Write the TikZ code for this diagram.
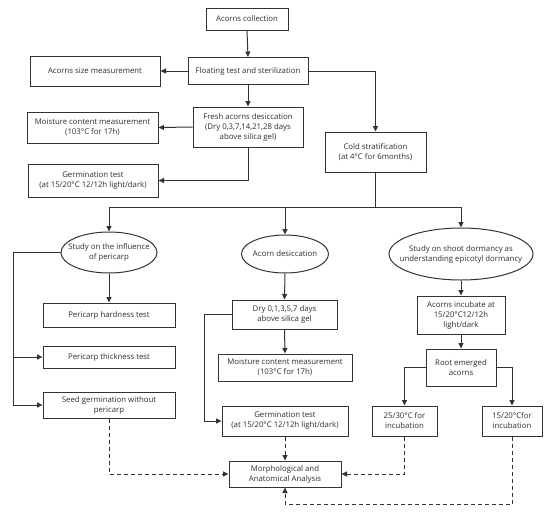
\documentclass[tikz,border=0pt]{standalone}
\usepackage{fontspec}
\setmainfont{Open Sans}
\usetikzlibrary{shapes.geometric,arrows.meta}
\definecolor{linec}{HTML}{333333}
\definecolor{textc}{HTML}{2E2E2E}
\begin{document}
\begin{tikzpicture}[x=1pt,y=-1pt,
  box/.style={draw=linec, line width=1pt, fill=white, inner sep=1pt, align=center,
              font=\fontsize{7.8}{10}\selectfont, text=textc},
  ell/.style={draw=linec, line width=1pt, fill=white, ellipse, inner sep=0pt},
  lbl/.style={align=center, inner sep=0pt, font=\fontsize{7.8}{10}\selectfont, text=textc},
  conn/.style={draw=linec, line width=1pt},
  arr/.style={conn, -{Triangle[length=5.5pt,width=5pt]}},
  darr/.style={arr, dash pattern=on 4pt off 3pt}]
\useasboundingbox (0,0) rectangle (550,515);

% top section
\node[box, minimum width=82pt, minimum height=22pt] (ac) at (247,19) {Acorns collection};
\node[box, minimum width=120pt, minimum height=27pt] (ft) at (248,71) {Floating test and sterilization};
\node[box, minimum width=130pt, minimum height=30pt] (asm) at (95,71) {Acorns size measurement};
\node[box, minimum width=110pt, minimum height=40pt] (fd) at (248,127) {Fresh acorns desiccation\\(Dry 0,3,7,14,21,28 days\\above silica gel)};
\node[box, minimum width=131pt, minimum height=31pt] (mcl) at (92.5,127.5) {Moisture content measurement\\(103°C for 17h)};
\node[box, minimum width=130pt, minimum height=33pt] (gtl) at (93,180.5) {Germination test\\(at 15/20°C 12/12h light/dark)};
\node[box, minimum width=101pt, minimum height=40pt] (cs) at (375.5,152) {Cold stratification\\(at 4°C for 6months)};

% ellipses (fixed size) with their texts
\node[ell, minimum width=96pt, minimum height=41pt] (e1) at (109,252.5) {};
\node[lbl] (e1t) at (e1.center) {Study on the influence\\of pericarp};
\node[ell, minimum width=87pt, minimum height=38pt] (e2) at (285,254) {};
\node[lbl] (e2t) at (e2.center) {Acorn desiccation};
\node[ell, minimum width=144pt, minimum height=52pt] (e3) at (461,254) {};
\node[lbl] (e3t) at (e3.center) {Study on shoot dormancy as\\understanding epicotyl dormancy};

% left branch
\node[box, minimum width=132pt, minimum height=24pt] (pht) at (109,315) {Pericarp hardness test};
\node[box, minimum width=132pt, minimum height=22pt] (ptt) at (109,357) {Pericarp thickness test};
\node[box, minimum width=132pt, minimum height=26pt] (sgw) at (109,405) {Seed germination without\\pericarp};

% middle branch
\node[box, minimum width=105pt, minimum height=29pt] (dry) at (284.5,314.5) {Dry 0,1,3,5,7 days\\above silica gel};
\node[box, minimum width=134pt, minimum height=27pt] (mcm) at (285,367.5) {Moisture content measurement\\(103°C for 17h)};
\node[box, minimum width=126pt, minimum height=30pt] (gtm) at (285,421) {Germination test\\(at 15/20°C 12/12h light/dark)};
\node[box, minimum width=112pt, minimum height=26pt] (mor) at (285,474) {Morphological and\\Anatomical Analysis};

% right branch
\node[box, minimum width=88pt, minimum height=38pt] (ai) at (461,315) {Acorns incubate at\\15/20°C12/12h\\light/dark};
\node[box, minimum width=70pt, minimum height=37pt] (re) at (461,367.5) {Root emerged\\acorns};
\node[box, minimum width=65pt, minimum height=30pt] (t25) at (404.5,421) {25/30°C for\\incubation};
\node[box, minimum width=60pt, minimum height=30pt] (t15) at (512,421) {15/20°Cfor\\incubation};

% helper coordinates
\coordinate (jn) at (375.5,207);
\coordinate (l1) at (13,252.5);
\coordinate (l3) at (204,314.5);
\coordinate (b1) at (512,504);

% connectors top
\draw[arr] (ac.south) -- (ft.north);
\draw[arr] (ft.west) -- (asm.east);
\draw[arr] (ft.south) -- (fd.north);
\draw[arr] (fd.west) -- (mcl.east);
\draw[arr] (fd.south) |- (gtl.east);
\draw[arr] (ft.east) -| (cs.north);
\draw[conn] (cs.south) -- (jn);
\draw[arr] (jn) -| (e1.north);
\draw[arr] (jn) -| (e2.north);
\draw[arr] (jn) -| (e3.north);

% left
\draw[arr] (e1.south) -- (pht.north);
\draw[arr] (e1.west) -- (l1) |- (sgw.west);
\draw[arr] (l1 |- ptt.west) -- (ptt.west);

% middle
\draw[arr] (e2.south) -- (dry.north);
\draw[arr] (dry.south) -- (mcm.north);
\draw[arr] (dry.west) -- (l3) |- (gtm.west);
\draw[darr] (gtm.south) -- (mor.north);
\draw[darr] (sgw.south) |- (mor.west);

% right
\draw[arr] (e3.south) -- (ai.north);
\draw[arr] (ai.south) -- (re.north);
\draw[arr] (re.west) -| (t25.north);
\draw[arr] (re.east) -| (t15.north);
\draw[darr] (t25.south) |- (mor.east);
\draw[darr] (t15.south) -- (b1) -| (mor.south);
\end{tikzpicture}
\end{document}
